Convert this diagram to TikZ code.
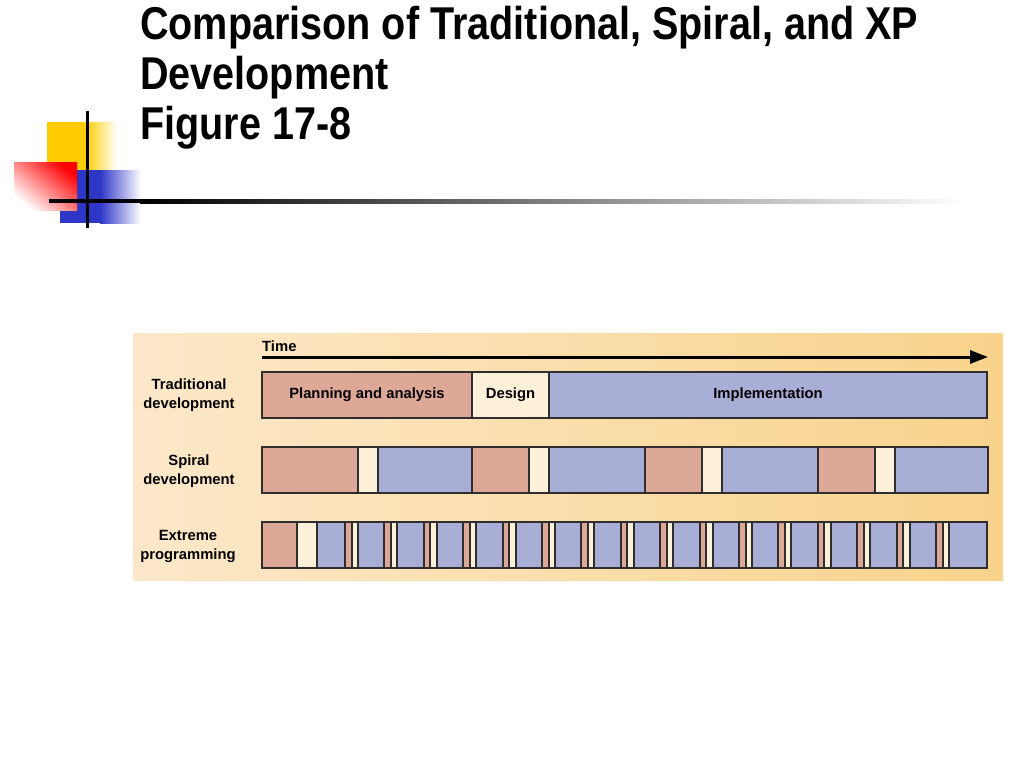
\documentclass[tikz,border=0pt]{standalone}
\usepackage{fontspec}
\setmainfont{Liberation Sans}
\newfontfamily\titlefont[FakeStretch=0.86]{Liberation Sans Bold}
\usetikzlibrary{arrows.meta}
\definecolor{planred}{HTML}{DDA898}
\definecolor{designcream}{HTML}{FDF0D8}
\definecolor{implblue}{HTML}{A9AED6}
\definecolor{segline}{HTML}{2E2E2E}
\definecolor{logoyellow}{HTML}{FFCC00}
\definecolor{logoblue}{HTML}{2E36C8}
\definecolor{panelleft}{HTML}{FCE8C9}
\definecolor{panelmid}{HTML}{FEF0D8}
\definecolor{panelright}{HTML}{F9D38C}
\tikzset{
  seg/.style={draw=segline, line width=2pt, minimum height=46pt, anchor=west,
    inner sep=0pt, outer sep=0pt, font=\bfseries\fontsize{14.8}{16}\selectfont},
  rowlabel/.style={align=center, font=\bfseries\fontsize{14.8}{19}\selectfont},
  titleline/.style={anchor=base west, inner sep=0pt, font=\titlefont\fontsize{46}{50}\selectfont}
}
\begin{document}
\begin{tikzpicture}[x=1pt, y=-1pt]
  \useasboundingbox (0,0) rectangle (1024,768);
  \fill[white] (0,0) rectangle (1024,768);

  \fill[logoyellow] (47,122) rectangle (86,172);
  \shade[left color=logoyellow, right color=white] (85,122) rectangle (117,172);
  \fill[logoblue] (60,170) rectangle (101,223);
  \shade[left color=logoblue, right color=white] (100,170) rectangle (141,223);
  \shade[top color=red, bottom color=white, shading angle=-40] (14,162) rectangle (77,210);
  \shade[left color=black, right color=white] (140,199) rectangle (965,203);
  \fill[black] (49,199) rectangle (141,203);
  \fill[black] (85.5,111) rectangle (88.5,228);

  \node[titleline] (title1) at (140,40) {Comparison of Traditional, Spiral, and XP};
  \node[titleline] (title2) at (140,89) {Development};
  \node[titleline] (title3) at (140,139) {Figure 17-8};

  \shade[left color=panelleft, middle color=panelmid, right color=panelright]
    (133,333) rectangle (1003,580);

  \node[anchor=base west, inner sep=0pt, font=\bfseries\fontsize{14.8}{16}\selectfont] (time) at (262,351) {Time};
  \coordinate (timeL) at (262,357);
  \coordinate (timeR) at (988,357);
  \draw[line width=3pt, -{Triangle[length=18pt,width=13pt]}] (timeL) -- (timeR);

  \node[rowlabel] (tradlabel) at (189,395) {Traditional\\development};
  \node[rowlabel] (spirlabel) at (189,471) {Spiral\\development};
  \node[rowlabel] (xplabel) at (188,546) {Extreme\\programming};

  \node[seg, fill=planred, minimum width=210pt] (plan) at (262,395) {Planning and analysis};
  \node[seg, fill=designcream, minimum width=77pt] (design) at (472,395) {Design};
  \node[seg, fill=implblue, minimum width=438pt] (impl) at (549,395) {Implementation};

  \foreach \x/\i in {262/1,472/2,645/3,818/4}
    \node[seg, fill=planred, minimum width={\i==1 ? 96 : 57}] (sr\i) at (\x,470) {};
  \foreach \x/\i in {358/1,529/2,702/3,875/4}
    \node[seg, fill=designcream, minimum width=20pt] (sc\i) at (\x,470) {};
  \foreach \x/\w/\i in {378/94/1,549/96/2,722/96/3,895/93/4}
    \node[seg, fill=implblue, minimum width=\w] (sb\i) at (\x,470) {};

  \node[seg, fill=planred, minimum width=35pt] (xr0) at (262,545) {};
  \node[seg, fill=designcream, minimum width=20pt] (xc0) at (297,545) {};
  \node[seg, fill=implblue, minimum width=28pt] (xb0) at (317,545) {};
  \foreach \i in {1,...,16}{
    \pgfmathsetmacro\bx{345+(\i-1)*39.4}
    \node[seg, fill=planred, minimum width=6.5pt] (xr\i) at (\bx,545) {};
    \node[seg, fill=designcream, minimum width=6.5pt] (xc\i) at (\bx+6.5,545) {};
    \node[seg, fill=implblue, minimum width={\i==16 ? 38 : 26.4}] (xb\i) at (\bx+13,545) {};
  }
\end{tikzpicture}
\end{document}
